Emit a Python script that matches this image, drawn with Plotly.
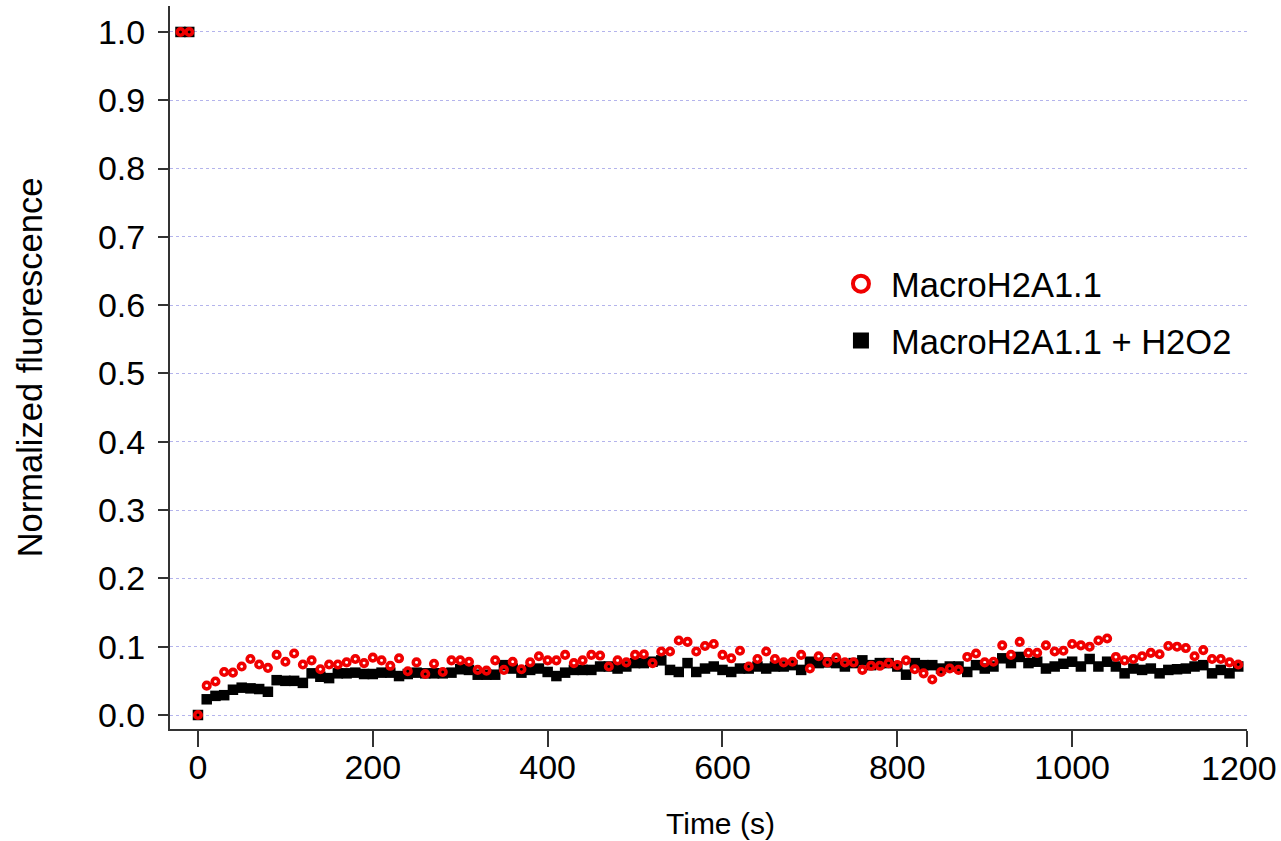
import plotly.graph_objects as go

# Sample times (s)
time_s = [-20, -10, 0,
          10, 20, 30, 40, 50, 60, 70, 80, 90, 100,
          110, 120, 130, 140, 150, 160, 170, 180, 190, 200,
          210, 220, 230, 240, 250, 260, 270, 280, 290, 300,
          310, 320, 330, 340, 350, 360, 370, 380, 390, 400,
          410, 420, 430, 440, 450, 460, 470, 480, 490, 500,
          510, 520, 530, 540, 550, 560, 570, 580, 590, 600,
          610, 620, 630, 640, 650, 660, 670, 680, 690, 700,
          710, 720, 730, 740, 750, 760, 770, 780, 790, 800,
          810, 820, 830, 840, 850, 860, 870, 880, 890, 900,
          910, 920, 930, 940, 950, 960, 970, 980, 990, 1000,
          1010, 1020, 1030, 1040, 1050, 1060, 1070, 1080, 1090, 1100,
          1110, 1120, 1130, 1140, 1150, 1160, 1170, 1180, 1190]

macro = [1.0, 1.0, 0.0,
         0.043, 0.049, 0.063, 0.062, 0.071, 0.082, 0.074, 0.069, 0.088, 0.078,
         0.090, 0.074, 0.080, 0.067, 0.074, 0.074, 0.077, 0.082, 0.076, 0.084,
         0.080, 0.072, 0.083, 0.064, 0.077, 0.060, 0.075, 0.063, 0.080, 0.080,
         0.078, 0.066, 0.065, 0.080, 0.066, 0.078, 0.067, 0.077, 0.086, 0.080,
         0.080, 0.088, 0.076, 0.080, 0.088, 0.087, 0.071, 0.080, 0.077, 0.088,
         0.089, 0.076, 0.093, 0.093, 0.109, 0.107, 0.093, 0.101, 0.104, 0.088,
         0.083, 0.094, 0.071, 0.082, 0.093, 0.082, 0.077, 0.078, 0.088, 0.068,
         0.086, 0.077, 0.084, 0.077, 0.077, 0.066, 0.072, 0.072, 0.076, 0.073,
         0.080, 0.067, 0.061, 0.052, 0.063, 0.068, 0.066, 0.085, 0.090, 0.077,
         0.078, 0.102, 0.088, 0.107, 0.091, 0.091, 0.102, 0.093, 0.094, 0.104,
         0.102, 0.100, 0.109, 0.112, 0.085, 0.080, 0.082, 0.086, 0.091, 0.089,
         0.101, 0.100, 0.098, 0.086, 0.095, 0.082, 0.082, 0.077, 0.074]

macro_h2o2 = [1.0, 1.0, 0.0,
              0.023, 0.028, 0.029, 0.037, 0.040, 0.039, 0.038, 0.034, 0.051, 0.050,
              0.050, 0.047, 0.061, 0.056, 0.054, 0.061, 0.061, 0.062, 0.060, 0.060,
              0.062, 0.062, 0.057, 0.060, 0.062, 0.061, 0.061, 0.061, 0.062, 0.067,
              0.066, 0.059, 0.059, 0.059, 0.073, 0.068, 0.062, 0.066, 0.068, 0.063,
              0.057, 0.062, 0.066, 0.066, 0.066, 0.071, 0.071, 0.068, 0.071, 0.076,
              0.076, 0.078, 0.080, 0.066, 0.063, 0.076, 0.063, 0.068, 0.071, 0.066,
              0.063, 0.068, 0.068, 0.071, 0.068, 0.071, 0.071, 0.073, 0.066, 0.078,
              0.076, 0.077, 0.076, 0.071, 0.076, 0.080, 0.073, 0.076, 0.076, 0.071,
              0.059, 0.076, 0.073, 0.073, 0.068, 0.071, 0.071, 0.063, 0.073, 0.068,
              0.071, 0.083, 0.076, 0.085, 0.076, 0.078, 0.068, 0.071, 0.075, 0.078,
              0.071, 0.082, 0.071, 0.078, 0.071, 0.061, 0.068, 0.066, 0.068, 0.061,
              0.066, 0.067, 0.068, 0.071, 0.073, 0.061, 0.066, 0.061, 0.071]

names = ["MacroH2A1.1", "MacroH2A1.1 + H2O2"]
y_ticks = [0.0, 0.1, 0.2, 0.3, 0.4, 0.5, 0.6, 0.7, 0.8, 0.9, 1.0]
x_ticks = [0, 200, 400, 600, 800, 1000, 1200]
x_labels = ["0", "200", "400", "600", "800", "1000", "1200"]
x_title = "Time (s)"
y_title = "Normalized fluorescence"

assert len(time_s) == len(macro) == len(macro_h2o2)

FONT = "Liberation Sans, Arial, Helvetica, sans-serif"
RED = "#f00000"

fig = go.Figure()
fig.add_trace(go.Scatter(
    x=time_s, y=macro_h2o2, mode="markers", showlegend=False, cliponaxis=False,
    marker=dict(symbol="square", size=10.5, color="black", line=dict(width=0))))
fig.add_trace(go.Scatter(
    x=time_s, y=macro, mode="markers", showlegend=False, cliponaxis=False,
    marker=dict(symbol="circle-open", size=6.5, color=RED, line=dict(width=3.6, color=RED))))

# legend entries (larger symbols as in the reference)
fig.add_trace(go.Scatter(
    x=[None], y=[None], mode="markers", name=names[0], legendgroup="a",
    marker=dict(symbol="circle-open", size=16, color=RED, line=dict(width=4, color=RED))))
fig.add_trace(go.Scatter(
    x=[None], y=[None], mode="markers", name=names[1], legendgroup="b",
    marker=dict(symbol="square", size=16, color="black")))

# last x tick label is drawn as an annotation, nudged left to stay inside the figure
fig.add_annotation(x=x_ticks[-1], xref="x", y=0, yref="paper", text=x_labels[-1],
                   showarrow=False, xanchor="center", yanchor="middle",
                   xshift=-8, yshift=-39, font=dict(size=34, family=FONT, color="black"))
# x-axis title
fig.add_annotation(x=0.5107, xref="paper", y=0, yref="paper", text=x_title,
                   showarrow=False, xanchor="center", yanchor="middle",
                   yshift=-94, font=dict(size=30, family=FONT, color="black"))

fig.update_layout(
    width=1281, height=841,
    margin=dict(l=170, r=34, t=6, b=112, autoexpand=False),
    paper_bgcolor="white", plot_bgcolor="white",
    font=dict(family=FONT, color="black", size=32),
    legend=dict(x=0.6137, y=0.656, xanchor="left", yanchor="top",
                bgcolor="rgba(0,0,0,0)", font=dict(size=34.5, family=FONT),
                traceorder="grouped", tracegroupgap=9, itemsizing="trace",
                itemwidth=50),
    xaxis=dict(range=[-32, 1200], tickvals=x_ticks, ticktext=x_labels[:-1] + [""],
               ticks="outside", ticklen=16,
               tickwidth=2, tickcolor="#333", showline=True, linecolor="#333",
               linewidth=2, showgrid=False, zeroline=False, automargin=False,
               ticklabeloverflow="allow", ticklabelstandoff=-9,
               tickfont=dict(size=34, family=FONT)),
    yaxis=dict(range=[-0.0205, 1.038], tickvals=y_ticks, tickformat=".1f",
               ticks="outside", ticklen=10, tickwidth=2, tickcolor="#333",
               showline=True, linecolor="#333", linewidth=2, automargin=False,
               showgrid=True, gridcolor="#b4b4ec", gridwidth=1, griddash="dot",
               zeroline=False, ticklabelstandoff=6, ticklabeloverflow="allow",
               tickfont=dict(size=34, family=FONT),
               title=dict(text=y_title, font=dict(size=34.5, family=FONT), standoff=45)),
)

fig.write_html("out.html", config={"displayModeBar": False},
               post_script="document.body.style.margin='0';")
